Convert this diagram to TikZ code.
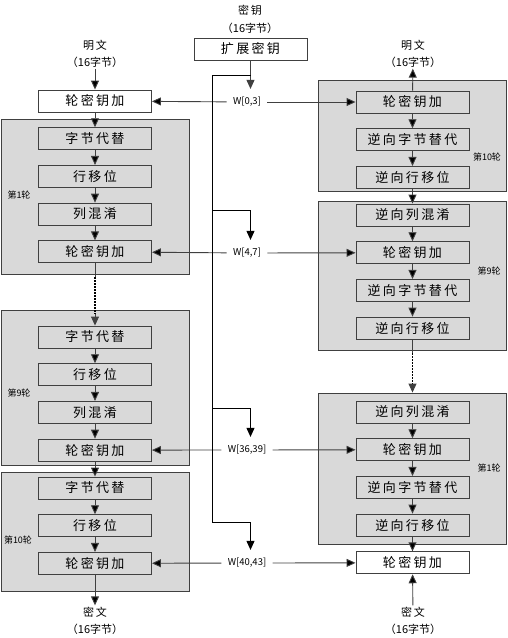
\documentclass[tikz,border=0pt]{standalone}
\usepackage{fontspec}
\usepackage[dvipsnames]{xcolor}
\usetikzlibrary{positioning,arrows.meta}
\newfontfamily\cjk{Noto Sans CJK SC}
\newfontfamily\cjkwide[LetterSpace=18]{Noto Sans CJK SC}
\definecolor{roundgray}{RGB}{217,217,217}
\definecolor{linegray}{RGB}{64,64,64}

\begin{document}
\begin{tikzpicture}[x=1pt,y=-1pt,>={Triangle[length=9pt,width=8pt]},line width=0.9pt,node distance=37.7pt,
    step node/.style={rectangle,draw=linegray,minimum width=113pt,minimum height=22pt,inner sep=0pt,font=\cjkwide\fontsize{13}{15}\selectfont},
    round box/.style={rectangle,draw=linegray,fill=roundgray,minimum width=188pt,inner sep=0pt},
    end node/.style={align=center,inner sep=1pt,font=\cjk\fontsize{11}{17}\selectfont},
    key node/.style={inner xsep=6pt,inner ysep=8pt,font=\cjk\fontsize{9.5}{11}\selectfont},
    round label/.style={inner sep=0pt,font=\cjk\fontsize{9}{11}\selectfont},
    gap line/.style={black,line width=1.2pt,dash pattern=on 2pt off 1pt}]

                \useasboundingbox (0,0) rectangle (508,638);

                % rounds
                \node (35) [round box,minimum height=155pt] at (95,196.5) {};
                \node (36) [round box,minimum height=155pt] at (95,387.5) {};
                \node (37) [round box,minimum height=119pt] at (95,531.5) {};
                \node (38) [round box,minimum height=111pt] at (412.5,135.5) {};
                \node (39) [round box,minimum height=149pt] at (412.5,275.5) {};
                \node (40) [round box,minimum height=151pt] at (412.5,468.5) {};

                % encryption
                \node (1) [step node,fill=white] at (95,101) {轮密钥加};
                \node (2) [step node,below of=1] {字节代替};
                \node (3) [step node,below of=2] {行移位};
                \node (4) [step node,below of=3] {列混淆};
                \node (5) [step node,below of=4] {轮密钥加};

                \node (6) [step node] at (95,337) {字节代替};
                \node (7) [step node,below of=6] {行移位};
                \node (8) [step node,below of=7] {列混淆};
                \node (9) [step node,below of=8] {轮密钥加};

                \node (10) [step node] at (95,488) {字节代替};
                \node (11) [step node,below of=10] {行移位};
                \node (12) [step node,below of=11] {轮密钥加};

                % decryption
                \node (13) [step node] at (412.5,102) {轮密钥加};
                \node (14) [step node,below of=13] {逆向字节替代};
                \node (15) [step node,below of=14] {逆向行移位};

                \node (16) [step node] at (412.5,215) {逆向列混淆};
                \node (17) [step node,below of=16] {轮密钥加};
                \node (18) [step node,below of=17] {逆向字节替代};
                \node (19) [step node,below of=18] {逆向行移位};

                \node (20) [step node] at (412.5,412) {逆向列混淆};
                \node (21) [step node,below of=20] {轮密钥加};
                \node (22) [step node,below of=21] {逆向字节替代};
                \node (23) [step node,below of=22] {逆向行移位};
                \node (24) [step node,fill=white,below of=23] {轮密钥加};

                % inputs and outputs
                \node (25) [end node,font=\cjk\fontsize{11}{18}\selectfont] at (250,19) {{\cjkwide 密钥}\\（16字节）};
                \node (26) [step node,fill=white] at (250.5,49) {扩展密钥};
                \node (27) [end node] at (95,53.5) {{\cjkwide 明文}\\（16字节）};
                \node (28) [end node] at (413,53.5) {{\cjkwide 明文}\\（16字节）};
                \node (29) [end node] at (95,620.5) {{\cjkwide 密文}\\（16字节）};
                \node (30) [end node] at (413,620.5) {{\cjkwide 密文}\\（16字节）};

                % round keys
                \node (31) [key node] at (247,102) {W[0,3]};
                \node (32) [key node] at (247,253) {W[4,7]};
                \node (33) [key node] at (247,450) {W[36,39]};
                \node (34) [key node] at (247,563) {W[40,43]};

                \node (45) [round label] at (19,195) {第1轮};
                \node (46) [round label] at (19,393) {第9轮};
                \node (47) [round label] at (18,540) {第10轮};
                \node (48) [round label] at (487,157) {第10轮};
                \node (49) [round label] at (489,271) {第9轮};
                \node (50) [round label] at (489,468) {第1轮};

                \coordinate (41) at (212,75);
                \coordinate (42) at (212,210);
                \coordinate (43) at (212,408);
                \coordinate (44) at (212,522);

                \path[->,draw=linegray]
                (27) edge (1)
                (1) edge (2)
                (2) edge (3)
                (3) edge (4)
                (4) edge (5)
                (6) edge (7)
                (7) edge (8)
                (8) edge (9)
                (9) edge (10)
                (10) edge (11)
                (11) edge (12)
                (12) edge (29)

                (13) edge (28)
                (13) edge (14)
                (14) edge (15)
                (15) edge (16)
                (16) edge (17)
                (17) edge (18)
                (18) edge (19)
                (20) edge (21)
                (21) edge (22)
                (22) edge (23)
                (23) edge (24)
                (30) edge (24)

                (31) edge (1)
                (31) edge (13)
                (32) edge (5)
                (32) edge (17)
                (33) edge (9)
                (33) edge (21)
                (34) edge (12)
                (34) edge (24)
                    ;

                % between the rounds
                \draw[linegray] (5) -- ([yshift=-3pt]35.south);
                \draw[gap line] ([yshift=-3pt]35.south) -- ([yshift=-4pt]36.north);
                \draw[linegray,->] ([yshift=-4pt]36.north) -- (6);
                \draw[linegray] (19) -- ([yshift=-3pt]39.south);
                \draw[gap line] ([yshift=-3pt]39.south) -- ([yshift=9pt]40.north);
                \draw[linegray,->] ([yshift=9pt]40.north) -- (40.north);

                % key expansion
                \draw[linegray,->] (26) -- (26.south |- 31.north);
                \draw (41) -- (41 -| 26.south) (41) -- (44);
                \draw[->] (42) -| (26.south |- 32.north);
                \draw[->] (43) -| (26.south |- 33.north);
                \draw[->] (44) -| (26.south |- 34.north);
\end{tikzpicture}
\end{document}
